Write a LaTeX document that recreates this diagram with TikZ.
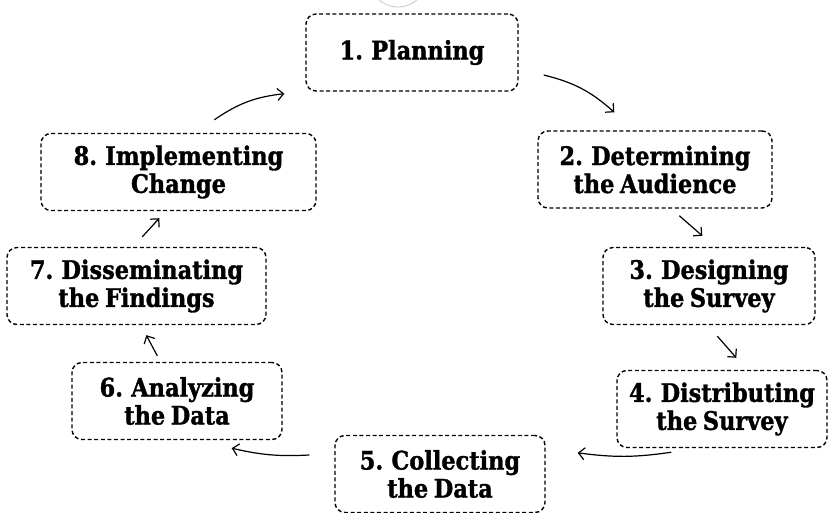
\documentclass[tikz,border=0pt]{standalone}
\usepackage{fontspec}
\setmainfont{DejaVu Serif}[FakeStretch=0.88,FakeBold=1.3]
\usepackage{tikz}
\usetikzlibrary{arrows.meta,positioning,calc}
\definecolor{stageink}{HTML}{000000}
\definecolor{ghostgray}{HTML}{C8C8C8}
\newcommand{\stagefont}{\fontsize{25.5}{28}\selectfont\bfseries\spaceskip=0.22em\relax}

\begin{document}
\begin{tikzpicture}[
  x=1pt, y=-1pt,
  font=\stagefont,
  >={Straight Barb[length=6pt,width=12pt]},
  stagebox/.style={
    draw=stageink,
    dashed,
    dash pattern=on 4pt off 2.6pt,
    line width=1.4pt,
    rounded corners=10pt,
    minimum height=77pt,
    inner sep=4pt,
    align=center,
    text=stageink
  },
  flow/.style={->, line width=1.2pt, draw=stageink}
]
  \useasboundingbox (0,0) rectangle (828,512);

  % faint remnant at the top edge
  \draw[ghostgray, line width=0.8pt] (398,-22) circle (29);

  % Stages of the survey cycle
  \node[stagebox, minimum width=212pt] (plan) at (412,52.5) {1. Planning};
  \node[stagebox, minimum width=234pt] (audience) at (655,169.5) {2. Determining\\the Audience};
  \node[stagebox, minimum width=212pt] (design) at (709,286) {3. Designing\\the Survey};
  \node[stagebox, minimum width=210pt] (distrib) at (722,409) {4. Distributing\\the Survey};
  \node[stagebox, minimum width=210pt] (collect) at (440,474) {5. Collecting\\the Data};
  \node[stagebox, minimum width=210pt] (analyze) at (177,401) {6. Analyzing\\the Data};
  \node[stagebox, minimum width=259pt] (dissem) at (136.5,286) {7. Disseminating\\the Findings};
  \node[stagebox, minimum width=275pt] (implement) at (178.5,172) {8. Implementing\\Change};

  % Cycle arrows
  \draw[flow] ([shift={(25,22.5)}]plan.east) to[bend left=14] ([shift={(77,-18)}]audience.north west);
  \draw[flow] ([shift={(142,7)}]audience.south west) -- ([shift={(100,-11)}]design.north west);
  \draw[flow] ([shift={(115,11)}]design.south west) -- ([shift={(120,-12)}]distrib.north west);
  \draw[flow] ([shift={(55,4)}]distrib.south west) to[bend left=8] ([shift={(32,18)}]collect.north east);
  \draw[flow] ([shift={(-25,-19)}]collect.west) to[bend left=8] ([shift={(-51,8)}]analyze.south east);
  \draw[flow] ([shift={(86,-6)}]analyze.north west) -- ([shift={(140,10)}]dissem.south west);
  \draw[flow] ([shift={(136,-10)}]dissem.north west) -- ([shift={(119,7)}]implement.south west);
  \draw[flow] ([shift={(174,-13)}]implement.north west) to[bend left=14] ([shift={(-21,2)}]plan.south west);

\end{tikzpicture}
\end{document}
